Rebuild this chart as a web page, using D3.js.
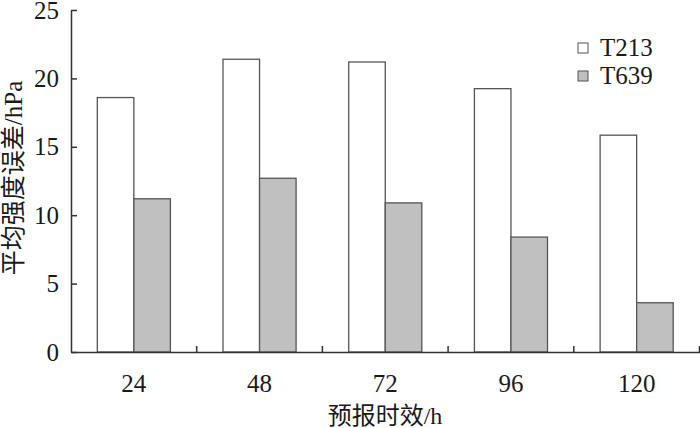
<!DOCTYPE html>
<html>
<head>
<meta charset="utf-8">
<script src="https://cdn.jsdelivr.net/npm/d3@7"></script>
<style>
  body { margin: 0; background: #fff; }
  text { font-family: "Liberation Serif", "Noto Sans CJK SC", serif; fill: #1a1a1a; }
</style>
</head>
<body>
<div id="chart"></div>
<script>
// data
var hours = ["24", "48", "72", "96", "120"];
var series = ["T213", "T639"];
var t213 = [18.6, 21.4, 21.2, 19.25, 15.85];
var t639 = [11.2, 12.7, 10.9, 8.4, 3.6];
var yTicks = [0, 5, 10, 15, 20, 25];

var width = 700,
    height = 428;

var fills = { T213: "#ffffff", T639: "#c0c0c0" };

var svg = d3.select("#chart").append("svg")
    .attr("width", width)
    .attr("height", height);

var x = d3.scaleBand()
    .domain(hours)
    .range([71, 699.5])
    .padding(0);

var x1 = d3.scaleBand()
    .domain(series)
    .range([0, x.bandwidth()])
    .paddingInner(0)
    .paddingOuter(0.72);

var y = d3.scaleLinear()
    .domain([0, 25])
    .range([352, 10]);

var rows = hours.map(function(h, i) {
    return { hour: h, values: [
        { key: "T213", value: t213[i] },
        { key: "T639", value: t639[i] }
    ]};
});

// bars
var groups = svg.append("g").selectAll("g")
    .data(rows)
  .enter().append("g")
    .attr("transform", function(d) { return "translate(" + x(d.hour) + ",0)"; });

groups.selectAll("rect")
    .data(function(d) { return d.values; })
  .enter().append("rect")
    .attr("x", function(d) { return x1(d.key); })
    .attr("y", function(d) { return y(d.value); })
    .attr("width", x1.bandwidth())
    .attr("height", function(d) { return y(0) - y(d.value); })
    .style("fill", function(d) { return fills[d.key]; })
    .style("stroke", "#555")
    .style("stroke-width", 1.3);

// y axis, ticks pointing inward
var yAxis = svg.append("g")
    .attr("transform", "translate(71,0)")
    .call(d3.axisLeft(y).tickValues(yTicks).tickSizeInner(-6).tickSizeOuter(0).tickPadding(12));

yAxis.select(".domain").style("stroke", "#333").style("stroke-width", 1.5);
yAxis.selectAll(".tick line").style("stroke", "#333").style("stroke-width", 1.5);
yAxis.selectAll(".tick text")
    .style("font-size", "25px")
    .style("font-family", "Liberation Serif")
    .style("fill", "#1a1a1a");

// x axis: labels centred, small ticks at the category boundaries
var xAxis = svg.append("g")
    .attr("transform", "translate(0,352)")
    .call(d3.axisBottom(x).tickSize(0).tickPadding(22));

xAxis.select(".domain").style("stroke", "#333").style("stroke-width", 1.5);
xAxis.selectAll(".tick text")
    .style("font-size", "25px")
    .style("font-family", "Liberation Serif")
    .style("fill", "#1a1a1a");

xAxis.selectAll(".bound")
    .data(hours)
  .enter().append("line")
    .attr("class", "bound")
    .attr("x1", function(d) { return x(d) + x.bandwidth(); })
    .attr("x2", function(d) { return x(d) + x.bandwidth(); })
    .attr("y1", 0)
    .attr("y2", -6)
    .style("stroke", "#333")
    .style("stroke-width", 1.5);

// axis titles
svg.append("text")
    .attr("x", 385)
    .attr("y", 424)
    .attr("text-anchor", "middle")
    .style("font-size", "24px")
    .text("预报时效/h");

svg.append("text")
    .attr("transform", "translate(22,178) rotate(-90)")
    .attr("text-anchor", "middle")
    .style("font-size", "25px")
    .text("平均强度误差/hPa");

// legend
var legend = svg.append("g").selectAll("g")
    .data(series)
  .enter().append("g")
    .attr("transform", function(d, i) { return "translate(578," + (43 + i * 28) + ")"; });

legend.append("rect")
    .attr("width", 10)
    .attr("height", 10)
    .style("fill", function(d) { return fills[d]; })
    .style("stroke", "#555")
    .style("stroke-width", 1);

legend.append("text")
    .attr("x", 22)
    .attr("y", 13)
    .style("font-size", "25px")
    .text(function(d) { return d; });
</script>
</body>
</html>
